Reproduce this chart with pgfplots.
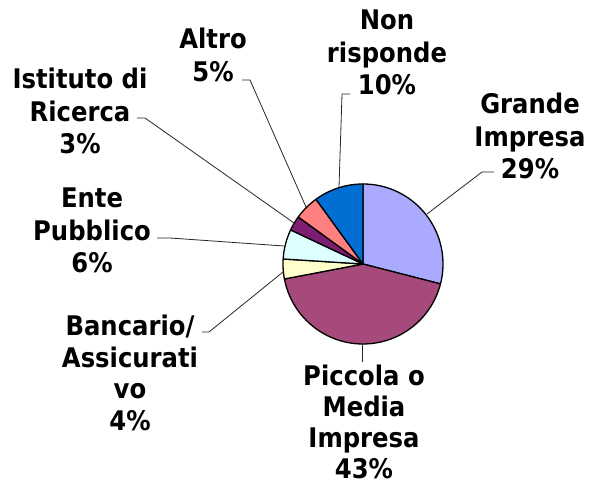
\documentclass[border=0pt]{standalone}
\usepackage{pgfplots}
\usepackage{pgfplotstable}
\pgfplotsset{compat=1.18}
\usepackage{fontspec}
\setmainfont{DejaVu Sans}[FakeStretch=0.9]
\definecolor{cGrande}{RGB}{170,170,255}
\definecolor{cPiccola}{RGB}{165,74,123}
\definecolor{cBanca}{RGB}{255,255,204}
\definecolor{cEnte}{RGB}{222,255,255}
\definecolor{cIst}{RGB}{125,30,115}
\definecolor{cAltro}{RGB}{255,128,128}
\definecolor{cNon}{RGB}{0,110,210}
\pgfplotstableread{
name pct
Grande 29
Piccola 43
Bancario 4
Ente 6
Istituto 3
Altro 5
Non 10
}\piedata
\begin{document}
\begin{tikzpicture}
\pgfplotstablegetelem{0}{pct}\of\piedata\pgfmathsetmacro\pA{\pgfplotsretval}
\pgfplotstablegetelem{1}{pct}\of\piedata\pgfmathsetmacro\pB{\pgfplotsretval}
\pgfplotstablegetelem{2}{pct}\of\piedata\pgfmathsetmacro\pC{\pgfplotsretval}
\pgfplotstablegetelem{3}{pct}\of\piedata\pgfmathsetmacro\pD{\pgfplotsretval}
\pgfplotstablegetelem{4}{pct}\of\piedata\pgfmathsetmacro\pE{\pgfplotsretval}
\pgfplotstablegetelem{5}{pct}\of\piedata\pgfmathsetmacro\pF{\pgfplotsretval}
\pgfplotstablegetelem{6}{pct}\of\piedata\pgfmathsetmacro\pG{\pgfplotsretval}
\pgfmathsetmacro\aA{90}
\pgfmathsetmacro\aB{\aA-3.6*\pA}
\pgfmathsetmacro\aC{\aB-3.6*\pB}
\pgfmathsetmacro\aD{\aC-3.6*\pC}
\pgfmathsetmacro\aE{\aD-3.6*\pD}
\pgfmathsetmacro\aF{\aE-3.6*\pE}
\pgfmathsetmacro\aG{\aF-3.6*\pF}
\pgfmathsetmacro\aH{\aG-3.6*\pG}
\begin{axis}[
  scale only axis, width=591pt, height=489pt,
  xmin=0, xmax=591, ymin=0, ymax=489,
  hide axis, clip=false,
]
\addplot[draw=none] coordinates {(0,0) (591,489)};
\pgfplotsset{pie/.style={draw=black, line width=1.3pt, line join=round, samples=60, variable=\t}}
\addplot[pie, fill=cGrande, domain=\aB:\aA] ({363+80*cos(\t)},{225+80*sin(\t)}) -- (axis cs:363,225) -- cycle;
\addplot[pie, fill=cPiccola, domain=\aC:\aB] ({363+80*cos(\t)},{225+80*sin(\t)}) -- (axis cs:363,225) -- cycle;
\addplot[pie, fill=cBanca, domain=\aD:\aC] ({363+80*cos(\t)},{225+80*sin(\t)}) -- (axis cs:363,225) -- cycle;
\addplot[pie, fill=cEnte, domain=\aE:\aD] ({363+80*cos(\t)},{225+80*sin(\t)}) -- (axis cs:363,225) -- cycle;
\addplot[pie, fill=cIst, domain=\aF:\aE] ({363+80*cos(\t)},{225+80*sin(\t)}) -- (axis cs:363,225) -- cycle;
\addplot[pie, fill=cAltro, domain=\aG:\aF] ({363+80*cos(\t)},{225+80*sin(\t)}) -- (axis cs:363,225) -- cycle;
\addplot[pie, fill=cNon, domain=\aH:\aG] ({363+80*cos(\t)},{225+80*sin(\t)}) -- (axis cs:363,225) -- cycle;
% leader lines
\pgfplotsset{lead/.style={black!85, line width=0.8pt, mark=none}}
\addplot[lead] coordinates {(350,395) (342,395) (339,302)};
\addplot[lead] coordinates {(494,317) (482,317) (427,275)};
\addplot[lead] coordinates {(242,409) (250,409) (306,282)};
\addplot[lead] coordinates {(137,371) (145,371) (294,266)};
\addplot[lead] coordinates {(157,251) (170,251) (284,243)};
\addplot[lead] coordinates {(202,157) (209,157) (283,217)};
\addplot[lead] coordinates {(362,145) (362,127)};
% labels
\tikzset{lab/.style={anchor=north, align=center, inner sep=0pt, font=\fontsize{27}{32.5}\selectfont\bfseries}}
\node[lab] at (axis cs:387,479) {Non\\risponde\\10\%};
\node[lab] at (axis cs:530,396) {Grande\\Impresa\\29\%};
\node[lab] at (axis cs:80,421) {Istituto di\\Ricerca\\3\%};
\node[lab] at (axis cs:213,461) {Altro\\5\%};
\node[lab] at (axis cs:92,301) {Ente\\Pubblico\\6\%};
\node[lab, font=\fontsize{27}{31.5}\selectfont\bfseries] at (axis cs:130,174) {Bancario/\\Assicurati\\vo\\4\%};
\node[lab, font=\fontsize{27}{31}\selectfont\bfseries] at (axis cs:364,124) {Piccola o\\Media\\Impresa\\43\%};
\end{axis}
\end{tikzpicture}
\end{document}
